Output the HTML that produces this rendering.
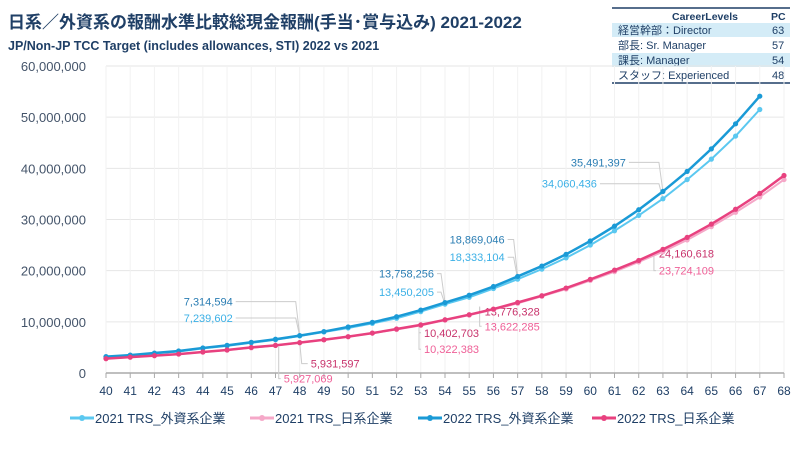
<!DOCTYPE html>
<html><head><meta charset="utf-8">
<style>
body{margin:0;background:#fff;width:810px;height:447px;overflow:hidden;font-family:"Liberation Sans","Noto Sans CJK JP",sans-serif;}
svg text{font-family:"Liberation Sans","Noto Sans CJK JP",sans-serif;}
</style></head><body>
<svg id="chart" width="810" height="447" xmlns="http://www.w3.org/2000/svg">
<text x="8" y="28" font-size="17" font-weight="bold" fill="#1f3f66">日系／外資系の報酬水準比較総現金報酬(手当･賞与込み) 2021-2022</text>
<text x="8" y="50" font-size="12.5" font-weight="bold" fill="#1f3f66">JP/Non-JP TCC Target (includes allowances, STI) 2022 vs 2021</text>
<g font-size="11" fill="#1f3f66">
<line x1="612" y1="8" x2="790" y2="8" stroke="#1f3f66" stroke-width="1.5"/>
<text x="672" y="20" font-weight="bold" font-size="10.5">CareerLevels</text><text x="771" y="20" font-weight="bold" font-size="10.5">PC</text>
<rect x="612" y="23" width="178" height="14" fill="#d4ecf7"/>
<text x="618" y="34">経営幹部：Director</text><text x="772" y="34">63</text>
<text x="618" y="49">部長: Sr. Manager</text><text x="772" y="49">57</text>
<rect x="612" y="53" width="178" height="14" fill="#d4ecf7"/>
<text x="618" y="64">課長: Manager</text><text x="772" y="64">54</text>
<text x="618" y="79">スタッフ: Experienced</text><text x="772" y="79">48</text>
<line x1="612" y1="83" x2="790" y2="83" stroke="#1f3f66" stroke-width="1.5"/>
</g>
<g id="grid"></g><g id="axes"></g><g id="annots"></g><g id="series"></g>
<g id="legend"></g>
</svg>
<script>
const ages=[40,41,42,43,44,45,46,47,48,49,50,51,52,53,54,55,56,57,58,59,60,61,62,63,64,65,66,67,68];
const yTicks=[0,10000000,20000000,30000000,40000000,50000000,60000000];
const yTickLabels=["0","10,000,000","20,000,000","30,000,000","40,000,000","50,000,000","60,000,000"];
const frn2021=[3.1,3.4,3.8,4.2,4.8,5.3,5.9,6.5,7.24,8.0,8.8,9.7,10.7,12.0,13.45,14.8,16.5,18.33,20.3,22.5,25.0,27.8,30.8,34.06,37.8,41.8,46.3,51.5,null];
const jp2021=[2.8,3.1,3.4,3.7,4.1,4.5,4.9,5.4,5.93,6.5,7.1,7.8,8.5,9.3,10.32,11.3,12.4,13.62,15.0,16.4,18.1,19.8,21.7,23.72,26.0,28.6,31.4,34.4,37.8];
const frn2022=[3.2,3.5,3.9,4.3,4.9,5.4,6.0,6.6,7.31,8.1,9.0,9.9,11.0,12.3,13.76,15.2,16.9,18.87,20.9,23.2,25.8,28.7,31.9,35.49,39.4,43.8,48.7,54.1,null];
const jp2022=[2.8,3.1,3.4,3.7,4.1,4.5,5.0,5.4,5.93,6.5,7.1,7.8,8.6,9.4,10.40,11.4,12.5,13.78,15.1,16.6,18.3,20.1,22.0,24.16,26.5,29.1,32.0,35.1,38.6];
const seriesNames=["2021 TRS_外資系企業","2021 TRS_日系企業","2022 TRS_外資系企業","2022 TRS_日系企業"];
const annotAges=[48,54,57,63];
const annotF22=["7,314,594","13,758,256","18,869,046","35,491,397"];
const annotF21=["7,239,602","13,450,205","18,333,104","34,060,436"];
const annotJ22=["5,931,597","10,402,703","13,776,328","24,160,618"];
const annotJ21=["5,927,069","10,322,383","13,622,285","23,724,109"];

const NS="http://www.w3.org/2000/svg";
const X0=106,X1=784,Y0=373,Y1=66;
const xs=a=>X0+(a-40)*(X1-X0)/28;
const ys=v=>Y0-v/60000000*(Y0-Y1);
const ysM=v=>ys(v*1e6);
function mk(t,attrs,parent){const e=document.createElementNS(NS,t);for(const k in attrs)e.setAttribute(k,attrs[k]);parent.appendChild(e);return e;}
const grid=document.getElementById('grid'),axes=document.getElementById('axes'),ser=document.getElementById('series'),ann=document.getElementById('annots'),leg=document.getElementById('legend');
yTicks.forEach((t,i)=>{
 if(i>0){const l=mk('line',{x1:X0,x2:X1,y1:ys(t),y2:ys(t),stroke:'#e6e6e6'},grid);
 
 }
 const tx=mk('text',{x:86,y:ys(t)+5,'text-anchor':'end','font-size':13,fill:'#44546a'},axes);
 tx.textContent=yTickLabels[i];
 
 
});
ages.forEach(a=>{
 const g=mk('line',{x1:xs(a),x2:xs(a),y1:Y1,y2:Y0,stroke:'#f2f2f2'},grid);
 
 
 mk('line',{x1:xs(a),x2:xs(a),y1:Y0,y2:Y0+5,stroke:'#aaa'},axes);
 const tx=mk('text',{x:xs(a),y:Y0+22,'text-anchor':'middle','font-size':12,fill:'#1f3f66'},axes);
 tx.textContent=a;
 
 
});
const ax=mk('line',{x1:X0,x2:X1,y1:Y0,y2:Y0,stroke:'#aaa','stroke-width':1.5},axes);


const data=[frn2021,jp2021,frn2022,jp2022];
const colors=['#5bc8f0','#f5a8c8','#1a9ad6','#e8417f'];
const widths=[2,2,2.5,2.5];
[0,1,2,3].forEach(si=>{
 const d=data[si];let pts=[];
 ages.forEach((a,i)=>{if(d[i]!=null)pts.push([xs(a),ysM(d[i])]);});
 const g=mk('g',{},ser);
 
 
 mk('polyline',{points:pts.map(p=>p.join(',')).join(' '),fill:'none',stroke:colors[si],'stroke-width':widths[si]},g);
 pts.forEach(p=>{const c=mk('circle',{cx:p[0],cy:p[1],r:2.6,fill:colors[si]},g);
  
  });
});
// annotation offsets relative to the data point [dx,dy] for F22,F21,J22,J21
const offs=[
 [[-67,-30],[-67,-14],[11,25],[-16,40]],
 [[-11,-25],[-11,-8],[-21,17],[-21,33]],
 [[-13,-33],[-13,-18],[-33,13],[-33,27]],
 [[-37,-25],[-66,-11],[-4,8],[-4,23]]];
annotAges.forEach((a,i)=>{
 const x=xs(a),i0=ages.indexOf(a);
 const o=offs[i];
 const base=[ysM(frn2022[i0]),ysM(frn2021[i0]),ysM(jp2022[i0]),ysM(jp2021[i0])];
 const labs=[annotF22[i],annotF21[i],annotJ22[i],annotJ21[i]];
 const cols=['#2a7db3','#3bb0e6','#c8336c','#ef5f97'];
 const anch=['end','end','start','start'];
 labs.forEach((lab,k)=>{
  const tx=x+o[k][0],ty=base[k]+o[k][1];
  if(anch[k]=='end' && tx+3<x){
   mk('polyline',{points:`${tx+3},${ty-4} ${x-4},${ty-4} ${x},${base[k]}`,fill:'none',stroke:'#ccc','stroke-width':1},ann);
  } else if(anch[k]=='start' && tx-3>x){
   mk('polyline',{points:`${tx-3},${ty-4} ${x+2},${ty-4} ${x},${base[k]}`,fill:'none',stroke:'#ccc','stroke-width':1},ann);
  } else if(anch[k]=='start'){
   mk('polyline',{points:`${tx-3},${ty-4} ${tx-5},${ty-4} ${tx-5},${base[k]+4}`,fill:'none',stroke:'#ccc','stroke-width':1},ann);
  }
  const t=mk('text',{x:tx,y:ty,'text-anchor':anch[k],'font-size':11,fill:cols[k]},ann);
  t.textContent=lab;
  
  
 });
});
// legend
const lx=[70,250,418,592];
seriesNames.forEach((n,i)=>{
 const g=mk('g',{},leg);
 
 
 mk('line',{x1:lx[i],x2:lx[i]+24,y1:418,y2:418,stroke:colors[i],'stroke-width':3},g);
 mk('circle',{cx:lx[i]+12,cy:418,r:3,fill:colors[i]},g);
 const t=mk('text',{x:lx[i]+25,y:423,'font-size':13,fill:'#1f3f66'},g);
 t.textContent=n;
});
</script>
</body></html>
